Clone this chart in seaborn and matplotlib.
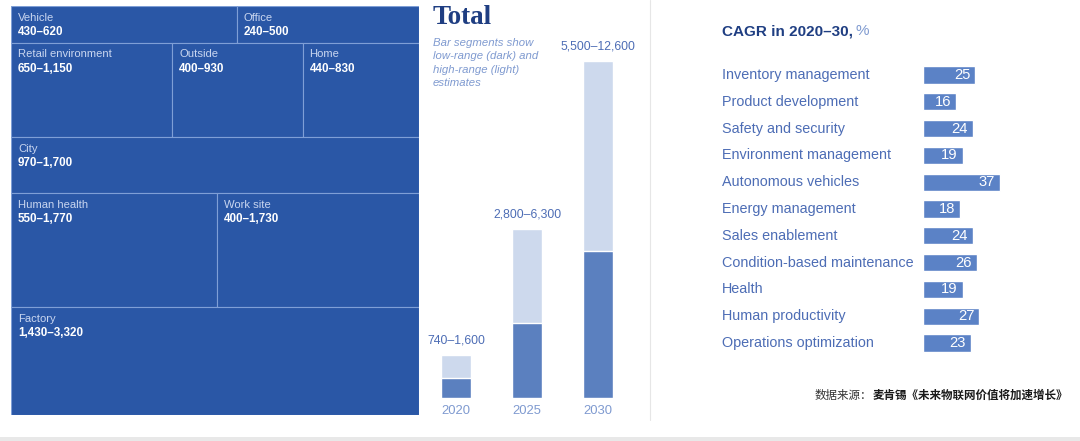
import matplotlib
matplotlib.use("Agg")
import matplotlib.pyplot as plt
from matplotlib.patches import Rectangle
from matplotlib.transforms import blended_transform_factory
import seaborn as sns

# treemap: areas are proportional to the high estimate
segments = ["Vehicle", "Office", "Retail environment", "Outside", "Home",
            "City", "Human health", "Work site", "Factory"]
seg_low = [430, 240, 650, 400, 440, 970, 550, 400, 1430]
seg_high = [620, 500, 1150, 930, 830, 1700, 1770, 1730, 3320]
seg_row = [0, 0, 1, 1, 1, 2, 3, 3, 4]

# totals
years = ["2020", "2025", "2030"]
total_low = [740, 2800, 5500]
total_high = [1600, 6300, 12600]

# CAGR 2020-30
cagr_labels = ["Inventory management", "Product development", "Safety and security",
               "Environment management", "Autonomous vehicles", "Energy management",
               "Sales enablement", "Condition-based maintenance", "Health",
               "Human productivity", "Operations optimization"]
cagr_values = [25, 16, 24, 19, 37, 18, 24, 26, 19, 27, 23]

TREE_BLUE = "#2a57a6"
TREE_EDGE = "#7f9fd6"
DARK = "#5b80bf"
LIGHT = "#cdd9ed"
CAGR_BAR = "#5b82c6"
LABEL_BLUE = "#4d6db5"
SOFT_BLUE = "#7f9ad0"
NAVY = "#1f3e82"

sns.set_theme(style="white")
plt.rcParams["font.family"] = ["Liberation Sans", "Noto Sans CJK SC", "DejaVu Sans"]

fig = plt.figure(figsize=(10.8, 4.41), dpi=100)
fig.patch.set_facecolor("white")


def rng(lo, hi):
    return f"{lo:,}\u2013{hi:,}"


# ---- treemap ----
ax_t = fig.add_axes([11 / 1080, 1 - 415 / 441, 408 / 1080, 409 / 441])
n_rows = max(seg_row) + 1
row_sums = [sum(h for h, r in zip(seg_high, seg_row) if r == k) for k in range(n_rows)]
total_area = sum(row_sums)
y0 = 0
for k in range(n_rows):
    x0 = 0
    for name, lo, hi, r in zip(segments, seg_low, seg_high, seg_row):
        if r != k:
            continue
        w = hi / row_sums[k]
        ax_t.add_patch(Rectangle((x0, y0), w, row_sums[k], facecolor=TREE_BLUE,
                                 edgecolor=TREE_EDGE, linewidth=0.8))
        ax_t.annotate(name, (x0, y0), xytext=(5, -5), textcoords="offset points",
                      ha="left", va="top", fontsize=8.1, color="#c9d6f0")
        ax_t.annotate(rng(lo, hi), (x0, y0), xytext=(5, -14.5), textcoords="offset points",
                      ha="left", va="top", fontsize=8.4, color="white", fontweight="bold")
        x0 += w
    y0 += row_sums[k]
ax_t.set_xlim(0, 1)
ax_t.set_ylim(total_area, 0)
ax_t.axis("off")

# ---- total bars ----
ax_m = fig.add_axes([420.5 / 1080, 1 - 398 / 441, 213 / 1080, 375 / 441])
sns.barplot(x=years, y=total_high, color=LIGHT, width=0.42, saturation=1, ax=ax_m)
sns.barplot(x=years, y=total_low, color=DARK, width=0.42, saturation=1, ax=ax_m)
for i, (lo, hi) in enumerate(zip(total_low, total_high)):
    ax_m.annotate(rng(lo, hi), (i, hi), xytext=(0, 6), textcoords="offset points",
                  ha="center", va="bottom", fontsize=8.8, color=LABEL_BLUE)
ax_m.set_ylim(0, 14000)
ax_m.set_xlim(-0.5, 2.5)
ax_m.set_yticks([])
ax_m.tick_params(axis="x", length=0, pad=5, labelsize=9.4, labelcolor=SOFT_BLUE)
ax_m.set_xlabel("")
ax_m.set_ylabel("")
ax_m.patch.set_alpha(0)
sns.despine(ax=ax_m, left=True, bottom=True)

fig.text(433 / 1080, 1 - 24 / 441, "Total", family="Liberation Serif", fontweight="bold",
         fontsize=19.5, color=NAVY, ha="left", va="baseline")
fig.text(433 / 1080, 1 - 38 / 441,
         "Bar segments show\nlow-range (dark) and\nhigh-range (light)\nestimates",
         style="italic", fontsize=8.2, color=SOFT_BLUE, ha="left", va="top", linespacing=1.42)

# divider
fig.add_artist(plt.Line2D([650 / 1080, 650 / 1080], [1 - 420 / 441, 1], color="#e6e6e6", lw=0.8))

# ---- CAGR bars ----
ax_r = fig.add_axes([923 / 1080, 1 - 356.4 / 441, 104 / 1080, 294.8 / 441])
sns.barplot(x=cagr_values, y=cagr_labels, orient="h", color=CAGR_BAR, width=0.64,
            saturation=1, ax=ax_r)
ax_r.set_xlim(0, 50)
ax_r.axis("off")
lab_tr = blended_transform_factory(fig.transFigure, ax_r.transData)
for i, (lab, v) in enumerate(zip(cagr_labels, cagr_values)):
    ax_r.text(722 / 1080, i, lab, transform=lab_tr, ha="left", va="center",
              fontsize=10.4, color=LABEL_BLUE)
    ax_r.annotate(str(v), (v, i), xytext=(-3.5, 0), textcoords="offset points",
                  ha="right", va="center", fontsize=10.6, color="white")

t1 = fig.text(722 / 1080, 1 - 31 / 441, "CAGR in 2020\u201330,", fontsize=11,
              fontweight="bold", color=NAVY, ha="left", va="center")
fig.canvas.draw()
bb = t1.get_window_extent()
fig.text(bb.x1 / fig.bbox.width + 3 / 1080, 1 - 31 / 441, "%", fontsize=11,
         color=SOFT_BLUE, ha="left", va="center")

# source
s2 = fig.text(1068 / 1080, 1 - 395 / 441, "麦肯锡《未来物联网价值将加速增长》",
              family=["Noto Sans CJK SC", "DejaVu Sans"], fontweight="bold",
              fontsize=8.3, color="#1a1a1a", ha="right", va="center")
fig.canvas.draw()
bb2 = s2.get_window_extent()
fig.text(bb2.x0 / fig.bbox.width, 1 - 395 / 441, "数据来源：",
         family=["Noto Sans CJK SC", "DejaVu Sans"], fontsize=8.3, color="#333333",
         ha="right", va="center")

# grey strip at bottom
fig.add_artist(Rectangle((0, 0), 1, 4 / 441, transform=fig.transFigure,
                         facecolor="#e8e8e8", edgecolor="none"))

fig.savefig("out.png", dpi=100)
